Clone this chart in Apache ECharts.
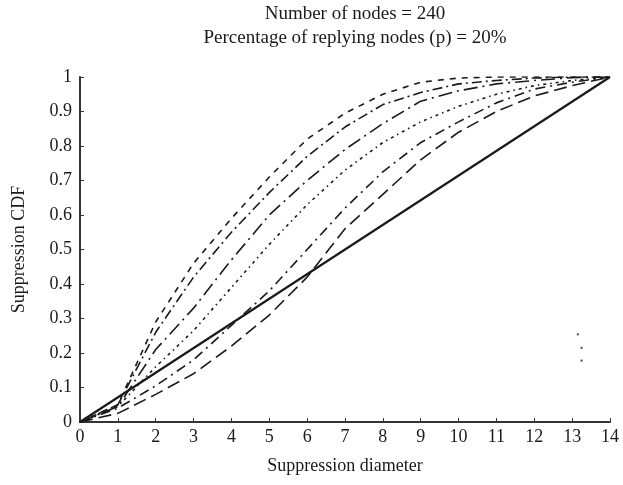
<!DOCTYPE html>
<html>
<head>
    <meta charset="UTF-8">
    <title>Suppression CDF</title>
    <script src="https://cdn.jsdelivr.net/npm/echarts@6/dist/echarts.min.js"></script>
    <style>
        html, body { margin: 0; padding: 0; background: #fff; }
    </style>
</head>
<body>
<div id="main" style="width: 623px;height:485px;"></div>
<script type="text/javascript">
    // suppression diameter (x)
    var diam = [0, 1, 2, 3, 4, 5, 6, 7, 8, 9, 10, 11, 12, 13, 14];
    // curves, top to bottom
    var curveA = [0, 0.05, 0.29, 0.46, 0.59, 0.71, 0.82, 0.895, 0.95, 0.985, 0.997, 1, 1, 1, 1];
    var curveB = [0, 0.05, 0.26, 0.42, 0.55, 0.665, 0.77, 0.855, 0.92, 0.955, 0.98, 0.99, 0.997, 1, 1];
    var curveC = [0, 0.045, 0.21, 0.33, 0.47, 0.60, 0.70, 0.79, 0.865, 0.93, 0.96, 0.98, 0.99, 0.998, 1];
    var curveD = [0, 0.045, 0.16, 0.265, 0.39, 0.515, 0.63, 0.73, 0.81, 0.87, 0.915, 0.95, 0.975, 0.99, 1];
    var curveE = [0, 0.04, 0.105, 0.18, 0.28, 0.38, 0.5, 0.62, 0.725, 0.81, 0.87, 0.925, 0.965, 0.985, 1];
    var curveF = [0, 0.025, 0.08, 0.14, 0.22, 0.31, 0.42, 0.56, 0.66, 0.76, 0.84, 0.9, 0.945, 0.975, 1];
    // straight reference line
    var lineX = [0, 14];
    var lineY = [0, 1];
    // leftover dots near the right side
    var dotX = [13.15, 13.25, 13.25];
    var dotY = [0.254, 0.215, 0.178];

    var serif = 'Liberation Serif';
    var ink = '#1a1a1a';

    function pairs(xs, ys) {
        var out = [];
        for (var i = 0; i < xs.length; i++) out.push([xs[i], ys[i]]);
        return out;
    }

    function curve(ys, dash, w) {
        return {
            type: 'line',
            data: pairs(diam, ys),
            symbol: 'none',
            silent: true,
            lineStyle: {color: ink, width: w || 1.6, type: dash}
        };
    }

    echarts.init(document.getElementById('main')).setOption({
        animation: false,
        title: {
            text: 'Number of nodes = 240\nPercentage of replying nodes (p) = 20%',
            left: 355,
            top: 2,
            padding: 0,
            textAlign: 'center',
            textStyle: {fontFamily: serif, fontSize: 19, fontWeight: 'normal', color: ink, lineHeight: 24}
        },
        grid: {left: 80, right: 13, top: 77, bottom: 63},
        xAxis: {
            type: 'value',
            min: 0, max: 14, interval: 1,
            name: 'Suppression diameter',
            nameLocation: 'middle',
            nameGap: 35,
            nameTextStyle: {fontFamily: serif, fontSize: 18, color: ink},
            axisLine: {lineStyle: {color: '#333', width: 2}},
            axisTick: {inside: true, length: 4, lineStyle: {color: '#333'}},
            axisLabel: {fontFamily: serif, fontSize: 18, color: ink, margin: 6},
            splitLine: {show: false}
        },
        yAxis: {
            type: 'value',
            min: 0, max: 1, interval: 0.1,
            name: 'Suppression CDF',
            nameLocation: 'middle',
            nameGap: 52,
            nameTextStyle: {fontFamily: serif, fontSize: 18, color: ink},
            axisLine: {show: true, lineStyle: {color: '#333', width: 2}},
            axisTick: {show: true, inside: true, length: 4, lineStyle: {color: '#333'}},
            axisLabel: {fontFamily: serif, fontSize: 18, color: ink, margin: 8},
            splitLine: {show: false}
        },
        series: [
            curve(curveA, [6, 6]),
            curve(curveB, [10, 4, 2, 4]),
            curve(curveC, [14, 5, 2, 5]),
            curve(curveD, [3, 4, 1.5, 4]),
            curve(curveE, [10, 5, 2, 5]),
            curve(curveF, [13, 6]),
            {
                type: 'line',
                data: pairs(lineX, lineY),
                symbol: 'none',
                silent: true,
                lineStyle: {color: ink, width: 2.2, type: 'solid'}
            },
            {
                type: 'scatter',
                data: pairs(dotX, dotY),
                symbol: 'rect',
                symbolSize: 2,
                silent: true,
                itemStyle: {color: ink}
            }
        ]
    });
</script>
</body>
</html>
